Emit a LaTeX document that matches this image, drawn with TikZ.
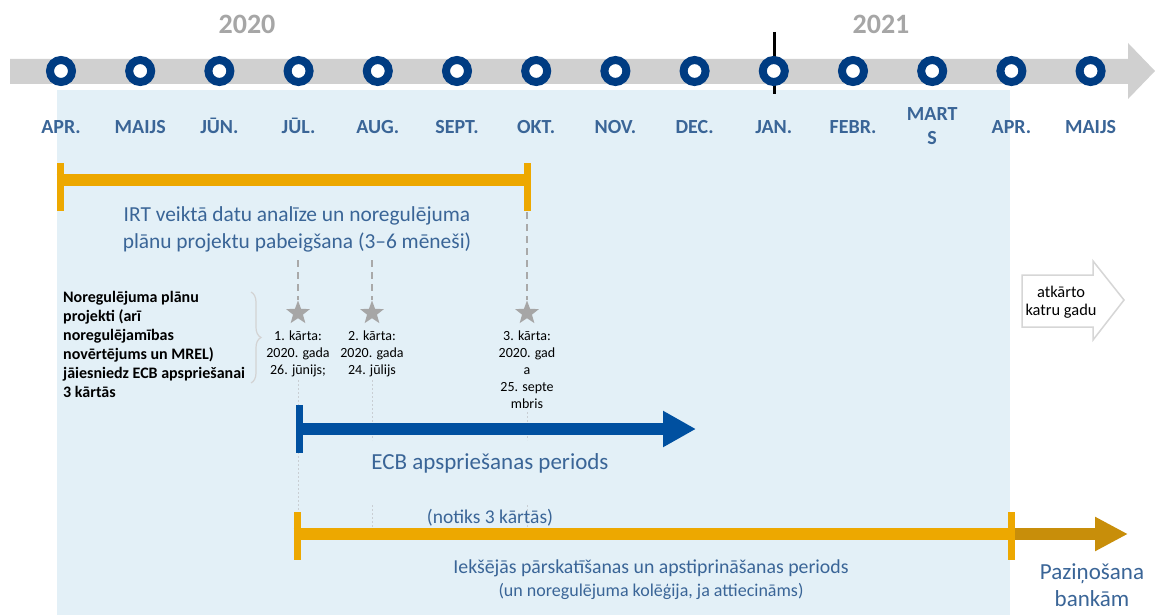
\documentclass[tikz,border=0pt]{standalone}
\usepackage{fontspec}
\setmainfont{Carlito}
\usetikzlibrary{decorations.pathreplacing,shapes.geometric,arrows.meta}
\definecolor{navy}{HTML}{003C82}
\definecolor{steel}{HTML}{3A6597}
\definecolor{bgblue}{HTML}{E3F0F7}
\definecolor{gold}{HTML}{EDA800}
\definecolor{darkgold}{HTML}{C88E0A}
\definecolor{ecb}{HTML}{0050A0}
\definecolor{band}{HTML}{D0D0D0}
\definecolor{yeargray}{HTML}{A6A6A6}
\definecolor{stargray}{HTML}{A6A6A6}
\definecolor{dashgray}{HTML}{A9A9A9}
\definecolor{faintgray}{HTML}{C9CED3}
\definecolor{bracegray}{HTML}{D3D3D3}
\definecolor{outlinegray}{HTML}{D6D6D6}
\begin{document}
\begin{tikzpicture}[x=1pt,y=-1pt,
  mon/.style={font=\bfseries\fontsize{20}{23}\selectfont, text=steel, inner sep=0, anchor=base},
  ring/.style={circle, draw=navy, line width=8pt, fill=white, minimum size=22pt, inner sep=0},
  bluetxt/.style={text=steel, inner sep=0, anchor=base},
  smalltxt/.style={font=\fontsize{14}{17}\selectfont, align=center, inner sep=0, anchor=north},
  gstar/.style={star, star points=5, star point ratio=2.4, fill=stargray, draw=none, minimum size=25pt, inner sep=0},
  dashg/.style={draw=dashgray, line width=2.5pt, dash pattern=on 7pt off 5pt},
  faint/.style={draw=faintgray, line width=1pt, dash pattern=on 2pt off 2pt},
  goldbar/.style={draw=gold, line width=12pt},
  goldcap/.style={draw=gold, line width=7pt},
  yearlbl/.style={font=\bfseries\fontsize{28}{32}\selectfont, text=yeargray, inner sep=0, anchor=base},
]
\useasboundingbox (0,0) rectangle (1155,615);
\fill[white] (0,0) rectangle (1155,615);
% background panel
\fill[bgblue] (57,90) rectangle (1010,615);
% timeline band
\fill[band] (10,59) -- (1128,59) -- (1128,43) -- (1155,71) -- (1128,99) -- (1128,84) -- (10,84) -- cycle;
% years
\node[yearlbl] (y2020) at (247,34) {2020};
\node[yearlbl] (y2021) at (881,34) {2021};
% January tick
\coordinate (jt1) at (774,32);
\coordinate (jt2) at (774,94);
\draw[black, line width=3pt] (jt1) -- (jt2);
% months
\foreach \n/\t in {0/APR., 1/MAIJS, 2/JŪN., 3/JŪL., 4/AUG., 5/SEPT., 6/OKT., 7/NOV., 8/DEC., 9/JAN., 10/FEBR., 12/APR., 13/MAIJS} {
  \node[ring] (c\n) at (61+79.2*\n,71) {};
  \node[mon] (l\n) at (61+79.2*\n,133) {\t};
}
\node[ring] (c11) at (61+79.2*11,71) {};
\node[mon] (l11) at (61+79.2*11,121) {MART};
\node[mon] (l11b) at (61+79.2*11,144) {S};

% first orange bar
\coordinate (a1) at (56.5,180);
\coordinate (a2) at (530.5,180);
\draw[goldbar] (a1) -- (a2);
\draw[goldcap] (60,163) -- (60,211);
\draw[goldcap] (527,163) -- (527,211);
\node[bluetxt, font=\fontsize{21.4}{25}\selectfont] (irt1) at (297,221) {IRT veiktā datu analīze un noregulējuma};
\node[bluetxt, font=\fontsize{21.4}{25}\selectfont] (irt2) at (297,248) {plānu projektu pabeigšana (3–6 mēneši)};

% stars and dashed lines
\node[gstar] (s1) at (298,313) {};
\node[gstar] (s2) at (372,313) {};
\node[gstar] (s3) at (527,313) {};
\coordinate (d1) at (298,260);
\coordinate (d2) at (372,260);
\coordinate (d3) at (527,212);
\draw[dashg] (d1) -- (s1.north);
\draw[dashg] (d2) -- (s2.north);
\draw[dashg] (d3) -- (s3.north);

\node[smalltxt] (t1) at (298,331) {1. kārta:\\2020. gada\\26. jūnijs;};
\node[smalltxt] (t2) at (372,331) {2. kārta:\\2020. gada\\24. jūlijs};
\node[smalltxt] (t3) at (527,331) {3. kārta:\\2020. gad\\a\\25. septe\\mbris};

% faint guide lines
\draw[faint] (298,380) -- (298,512);
\draw[faint] (372,380) -- (372,440);
\draw[faint] (372,505) -- (372,532);
\draw[faint] (527,412) -- (527,440);
\draw[faint] (527,505) -- (527,532);

% left note with brace
\node[font=\bfseries\fontsize{16}{19}\selectfont, align=left, anchor=north west, inner sep=0] (note) at (63,291)
  {Noregulējuma plānu\\projekti (arī\\noregulējamības\\novērtējums un MREL)\\jāiesniedz ECB apspriešanai\\3 kārtās};
\coordinate (br1) at (251,292);
\coordinate (br2) at (251,383);
\draw[bracegray, line width=1.2pt, decorate, decoration={brace, amplitude=10pt}] (br1) -- (br2);

% ECB arrow
\coordinate (e0a) at (299.5,405);
\coordinate (e0b) at (299.5,453);
\coordinate (e1) at (300,429);
\coordinate (e2) at (696,429);
\draw[ecb, line width=12pt, -{Triangle[length=33pt,width=34pt]}] (e1) -- (e2);
\draw[ecb, line width=7pt] (e0a) -- (e0b);
\node[bluetxt, font=\fontsize{23}{27}\selectfont] (ecbt) at (490,469) {ECB apspriešanas periods};

% second orange bar
\node[bluetxt, font=\fontsize{19.5}{23}\selectfont] (notiks) at (490,523) {(notiks 3 kārtās)};
\coordinate (g1) at (293.5,534);
\coordinate (g2) at (1011,534);
\coordinate (g3) at (1128,534);
\draw[darkgold, line width=12pt, -{Triangle[length=33pt,width=32pt]}] (g2) -- (g3);
\draw[goldbar] (g1) -- (g2);
\draw[goldcap] (297,512) -- (297,560);
\draw[goldcap] (1011,512) -- (1011,560);
\node[bluetxt, font=\fontsize{19.8}{23}\selectfont] (iek) at (651,573) {Iekšējās pārskatīšanas un apstiprināšanas periods};
\node[bluetxt, font=\fontsize{18}{21}\selectfont] (unn) at (651,596) {(un noregulējuma kolēģija, ja attiecināms)};
\node[bluetxt, font=\fontsize{23}{27}\selectfont] (paz1) at (1092,579) {Paziņošana};
\node[bluetxt, font=\fontsize{23}{27}\selectfont] (paz2) at (1092,606) {bankām};

% repeat arrow
\draw[outlinegray, line width=1.5pt, fill=white] (1022,275) -- (1093,275) -- (1093,261) -- (1124,300) -- (1093,340) -- (1093,327) -- (1022,327) -- cycle;
\node[font=\fontsize{16.4}{19}\selectfont, inner sep=0, anchor=base] (rep1) at (1061,297) {atkārto};
\node[font=\fontsize{16.4}{19}\selectfont, inner sep=0, anchor=base] (rep2) at (1061,315) {katru gadu};
\end{tikzpicture}
\end{document}
